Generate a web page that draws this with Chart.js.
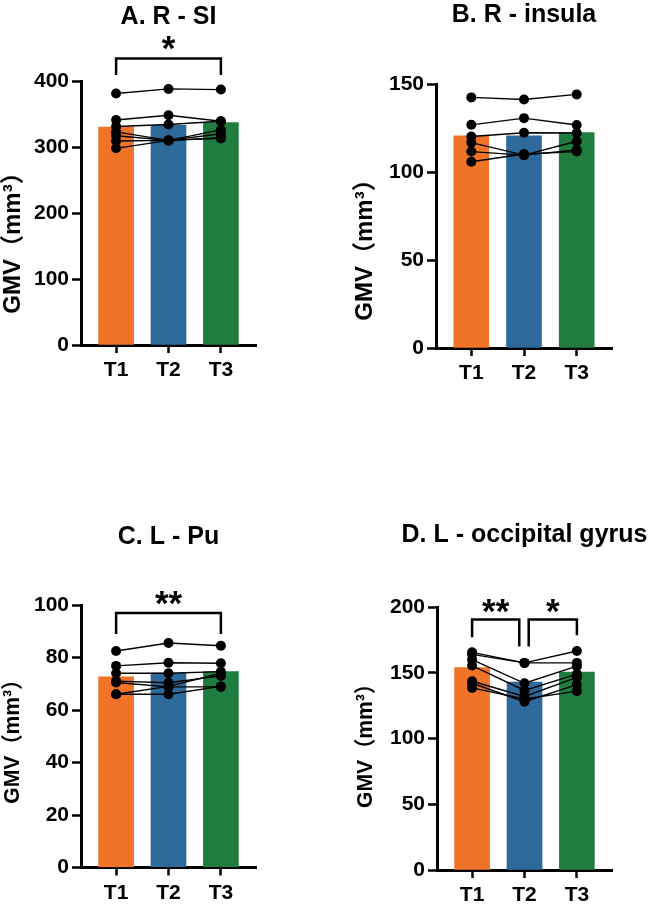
<!DOCTYPE html>
<html>
<head>
<meta charset="utf-8">
<title>GMV T1 T2 T3</title>
<script src="https://cdn.jsdelivr.net/npm/chart.js@4.4.1/dist/chart.umd.min.js"></script>
<style>
  body { margin: 0; background: #fff; width: 650px; height: 906px; position: relative; overflow: hidden; }
  canvas { position: absolute; }
</style>
</head>
<body>
<canvas id="chartA" width="325" height="400" style="left:0;top:0"></canvas>
<canvas id="chartB" width="325" height="400" style="left:325px;top:0"></canvas>
<canvas id="chartC" width="325" height="466" style="left:0;top:440px"></canvas>
<canvas id="chartD" width="325" height="466" style="left:325px;top:440px"></canvas>
<script>
// time points on the x axis
const timeLabels = ['T1', 'T2', 'T3'];
const timeValues = [1, 2, 3];
const yTitle = 'GMV（mm³）';

// A. R - SI
const siMeans = [330, 333, 337];
const siSubjects = [
    [381, 388, 387],
    [341, 348, 339],
    [331, 334, 339],
    [323, 310, 326],
    [317, 310, 320],
    [309, 310, 313],
    [298, 310, 314]
];
const siTicks = [0, 100, 200, 300, 400];
const siSig = [{ from: 1, to: 3, top: 434, legs: [409, 409], label: '*', labelAt: 462 }];

// B. R - insula
const insulaMeans = [120.5, 120.5, 122.4];
const insulaSubjects = [
    [142.4, 141.2, 144.1],
    [126.8, 130.6, 126.7],
    [120.2, 122.3, 122.2],
    [116.7, 109.6, 117.5],
    [111.6, 109.6, 112.6],
    [105.8, 110.2, 111.6]
];
const insulaTicks = [0, 50, 100, 150];
const insulaSig = [];

// C. L - Pu
const puMeans = [72.6, 74.1, 74.6];
const puSubjects = [
    [82.5, 85.5, 84.5],
    [76.8, 78.0, 77.8],
    [74.0, 74.0, 74.6],
    [71.0, 70.4, 73.0],
    [70.5, 68.8, 68.8],
    [66.0, 66.0, 69.0],
    [66.0, 69.0, 74.0]
];
const puTicks = [0, 20, 40, 60, 80, 100];
const puSig = [{ from: 1, to: 3, top: 97, legs: [89, 89], label: '**', labelAt: 104 }];

// D. L - occipital gyrus
const occMeans = [154, 143, 150.6];
const occSubjects = [
    [165.5, 157.5, 166.5],
    [164.0, 157.5, 157.5],
    [160.0, 142.0, 155.0],
    [155.5, 136.5, 149.0],
    [143.5, 132.0, 146.5],
    [142.0, 128.0, 141.0],
    [138.5, 130.0, 136.0]
];
const occTicks = [0, 50, 100, 150, 200];
const occSig = [
    { from: 1, to: 1.9, top: 190.5, legs: [177, 170], label: '**', labelAt: 203 },
    { from: 2.08, to: 3, top: 190.5, legs: [170, 178.5], label: '*', labelAt: 203 }
];

const barColors = ['#F07328', '#2D6A9B', '#1F7D3F'];
const fontFamily = '"Liberation Sans", Arial, "Noto Sans CJK SC", sans-serif';

// panel title, y title and the significance stars
const panelText = {
    id: 'panelText',
    afterDatasetsDraw(chart, args, opts) {
        const ctx = chart.ctx;
        const area = chart.chartArea;
        const xs = chart.scales.x, ys = chart.scales.y;
        ctx.save();
        ctx.fillStyle = '#000';
        ctx.textAlign = 'center';
        ctx.textBaseline = 'middle';
        ctx.font = 'bold 25px ' + fontFamily;
        ctx.fillText(opts.title, (area.left + area.right) / 2, opts.titleY);

        ctx.font = 'bold 35px ' + fontFamily;
        ctx.textBaseline = 'alphabetic';
        opts.sig.forEach(s => {
            ctx.fillText(s.label, xs.getPixelForValue((s.from + s.to) / 2), ys.getPixelForValue(s.labelAt) + 0.58 * 35);
        });

        // y axis title, fitted to the length seen in the figure
        ctx.font = 'bold ' + opts.yTitleSize + 'px ' + fontFamily;
        ctx.textBaseline = 'middle';
        const w = ctx.measureText(yTitle).width;
        ctx.translate(opts.yTitleX, (area.top + area.bottom) / 2 + opts.yTitleShift);
        ctx.rotate(-Math.PI / 2);
        ctx.scale(Math.min(1, opts.yTitleLen / w), 1);
        ctx.fillText(yTitle, 0, 0);
        ctx.restore();
    }
};

function makeChart(id, p) {
    const canvas = document.getElementById(id);
    const W = canvas.width, H = canvas.height;

    const datasets = [{
        type: 'bar',
        data: timeValues.map((t, i) => ({ x: t, y: p.means[i] })),
        backgroundColor: barColors,
        barThickness: 35,
        order: 5
    }];

    // one line per subject
    p.subjects.forEach(s => {
        datasets.push({
            type: 'line',
            data: timeValues.map((t, i) => ({ x: t, y: s[i] })),
            borderColor: '#000',
            borderWidth: 1.4,
            pointRadius: 5,
            pointBackgroundColor: '#000',
            pointBorderWidth: 0,
            clip: false,
            order: 0
        });
    });

    // brackets above the bars
    p.text.sig.forEach(s => {
        datasets.push({
            type: 'line',
            data: [{ x: s.from, y: s.legs[0] }, { x: s.from, y: s.top }, { x: s.to, y: s.top }, { x: s.to, y: s.legs[1] }],
            borderColor: '#000',
            borderWidth: 2.5,
            borderJoinStyle: 'miter',
            pointRadius: 0,
            clip: false,
            order: 1
        });
    });

    return new Chart(canvas, {
        type: 'bar',
        data: { datasets: datasets },
        options: {
            responsive: false,
            animation: false,
            layout: { padding: { top: p.area.top, right: W - p.area.right, left: 0, bottom: 0 } },
            plugins: {
                legend: { display: false },
                tooltip: { enabled: false },
                panelText: p.text
            },
            scales: {
                x: {
                    type: 'linear',
                    min: 0.33,
                    max: 3.67,
                    offset: false,
                    afterBuildTicks: sc => { sc.ticks = timeValues.map(v => ({ value: v })); },
                    afterFit: sc => { sc.height = H - p.area.bottom; },
                    grid: { offset: false, drawOnChartArea: false, tickLength: 8, tickColor: '#000', tickWidth: 2.5 },
                    border: { color: '#000', width: 3 },
                    ticks: {
                        autoSkip: false, maxRotation: 0, padding: 5, color: '#000',
                        font: { family: fontFamily, size: 21, weight: 'bold' },
                        callback: v => timeLabels[timeValues.indexOf(v)]
                    }
                },
                y: {
                    min: p.ticks[0],
                    max: p.ticks[p.ticks.length - 1],
                    afterBuildTicks: sc => { sc.ticks = p.ticks.map(v => ({ value: v })); },
                    afterFit: sc => { sc.width = p.area.left; },
                    grid: { drawOnChartArea: false, tickLength: 9, tickColor: '#000', tickWidth: 2.5 },
                    border: { color: '#000', width: 3 },
                    ticks: { padding: 3, color: '#000', font: { family: fontFamily, size: 21, weight: 'bold' } }
                }
            }
        },
        plugins: [panelText]
    });
}

makeChart('chartA', { means: siMeans, subjects: siSubjects, ticks: siTicks,
    area: { left: 81, top: 81, right: 256, bottom: 345 },
    text: { title: 'A. R - SI', titleY: 17.5, sig: siSig, yTitleX: 13.5, yTitleShift: 24, yTitleSize: 24, yTitleLen: 175 } });
makeChart('chartB', { means: insulaMeans, subjects: insulaSubjects, ticks: insulaTicks,
    area: { left: 111, top: 84, right: 287, bottom: 348 },
    text: { title: 'B. R - insula', titleY: 15.5, sig: insulaSig, yTitleX: 40.5, yTitleShift: 28, yTitleSize: 24, yTitleLen: 175 } });
makeChart('chartC', { means: puMeans, subjects: puSubjects, ticks: puTicks,
    area: { left: 81, top: 165, right: 256, bottom: 427.5 },
    text: { title: 'C. L - Pu', titleY: 97, sig: puSig, yTitleX: 13, yTitleShift: 0, yTitleSize: 22, yTitleLen: 135 } });
makeChart('chartD', { means: occMeans, subjects: occSubjects, ticks: occTicks,
    area: { left: 112, top: 167, right: 287, bottom: 430 },
    text: { title: 'D. L - occipital gyrus', titleY: 95.5, sig: occSig, yTitleX: 40.5, yTitleShift: 2, yTitleSize: 22, yTitleLen: 135 } });
</script>
</body>
</html>
